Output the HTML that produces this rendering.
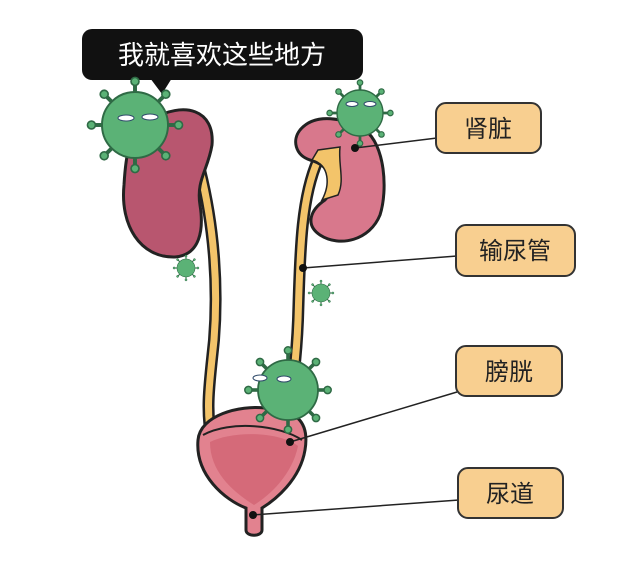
<!DOCTYPE html>
<html><head><meta charset="utf-8"><style>
html,body{margin:0;padding:0;background:#fff;width:640px;height:568px;overflow:hidden}
text{font-family:"Liberation Sans","Noto Sans CJK SC",sans-serif}
</style></head><body>
<svg width="640" height="568" viewBox="0 0 640 568" xmlns="http://www.w3.org/2000/svg">
<defs>
<g id="sp"><line x1="0" y1="-1" x2="0" y2="-1.3" stroke="#2f6a45" stroke-width="0.12" /><circle cx="0" cy="-1.32" r="0.12" fill="#5bb276" stroke="#2f6a45" stroke-width="0.05"/></g>
<g id="vir">
<use href="#sp"/><use href="#sp" transform="rotate(45)"/><use href="#sp" transform="rotate(90)"/><use href="#sp" transform="rotate(135)"/>
<use href="#sp" transform="rotate(180)"/><use href="#sp" transform="rotate(225)"/><use href="#sp" transform="rotate(270)"/><use href="#sp" transform="rotate(315)"/>
<circle r="1" fill="#5bb276" stroke="#2f6a45" stroke-width="0.06"/>
</g>
</defs>
<!-- speech bubble -->
<rect x="82" y="29" width="281" height="51" rx="10" fill="#111"/>
<polygon points="150,78 172,78 162,94" fill="#111"/>
<text x="222" y="64" font-size="26" fill="#fff" text-anchor="middle">我就喜欢这些地方</text>

<!-- ureters -->
<path d="M200,170 C215,230 218,290 214,340 C210,380 205,410 212,440" fill="none" stroke="#222" stroke-width="12"/>
<path d="M200,170 C215,230 218,290 214,340 C210,380 205,410 212,440" fill="none" stroke="#f3c46a" stroke-width="7"/>
<path d="M318,160 C300,200 300,260 298,320 C296,370 290,400 284,440" fill="none" stroke="#222" stroke-width="12"/>
<path d="M318,160 C300,200 300,260 298,320 C296,370 290,400 284,440" fill="none" stroke="#f3c46a" stroke-width="7"/>

<!-- left kidney -->
<path d="M150,120 C185,100 215,110 212,145 C208,170 196,180 200,205 C204,230 200,255 175,257 C140,258 120,225 124,185 C126,150 130,130 150,120Z" fill="#b8566f" stroke="#222" stroke-width="3"/>
<!-- right kidney -->
<path d="M300,130 C315,112 345,118 365,130 C385,145 388,190 380,215 C370,240 340,248 320,235 C305,225 310,210 325,200 C340,185 330,165 310,160 C295,155 292,140 300,130Z" fill="#d8788c" stroke="#222" stroke-width="3"/>
<path d="M318,150 L340,147 C338,165 345,180 338,195 L322,200 C330,185 330,165 312,160Z" fill="#f3c46a" stroke="#222" stroke-width="1.5"/>

<!-- bladder -->
<path d="M198,440 C200,415 240,405 265,408 C295,410 310,420 305,450 C300,480 275,500 262,508 L262,530 C262,537 246,537 246,530 L246,508 C225,500 195,475 198,440Z" fill="#e2828f" stroke="#222" stroke-width="3"/>
<path d="M203,435 C230,420 280,425 302,440" fill="none" stroke="#222" stroke-width="2"/>
<path d="M210,442 C235,430 280,432 298,446 C292,475 270,495 254,505 C230,490 210,470 210,442Z" fill="#d0606f" opacity="0.7"/>

<!-- viruses -->
<use href="#vir" transform="translate(135,125) scale(33)"/>
<use href="#vir" transform="translate(360,113) scale(23)"/>
<use href="#vir" transform="translate(288,390) scale(30)"/>
<use href="#vir" transform="translate(186,268) scale(9)"/>
<use href="#vir" transform="translate(321,293) scale(9)"/>
<g fill="#fff" stroke="#2f4a6a" stroke-width="1">
<ellipse cx="126" cy="118" rx="8" ry="3"/><ellipse cx="150" cy="117" rx="8" ry="3"/>
<ellipse cx="352" cy="104" rx="6" ry="2.5"/><ellipse cx="370" cy="104" rx="6" ry="2.5"/>
<ellipse cx="260" cy="378" rx="7" ry="3"/><ellipse cx="284" cy="379" rx="7" ry="3"/>
</g>

<!-- leader lines -->
<g stroke="#222" stroke-width="1.5">
<line x1="355" y1="148" x2="437" y2="138"/>
<line x1="303" y1="268" x2="457" y2="256"/>
<line x1="290" y1="442" x2="457" y2="392"/>
<line x1="253" y1="515" x2="459" y2="500"/>
</g>
<g fill="#111">
<circle cx="355" cy="148" r="4"/><circle cx="303" cy="268" r="4"/>
<circle cx="290" cy="442" r="4"/><circle cx="253" cy="515" r="4"/>
</g>

<!-- labels -->
<g fill="#f8cf90" stroke="#333" stroke-width="2">
<rect x="436" y="103" width="105" height="50" rx="10"/>
<rect x="456" y="225" width="119" height="51" rx="10"/>
<rect x="456" y="346" width="106" height="50" rx="10"/>
<rect x="458" y="468" width="105" height="50" rx="10"/>
</g>
<g font-size="24" fill="#222" text-anchor="middle">
<text x="488" y="137">肾脏</text>
<text x="515" y="259">输尿管</text>
<text x="509" y="380">膀胱</text>
<text x="510" y="502">尿道</text>
</g>
</svg>
</body></html>
